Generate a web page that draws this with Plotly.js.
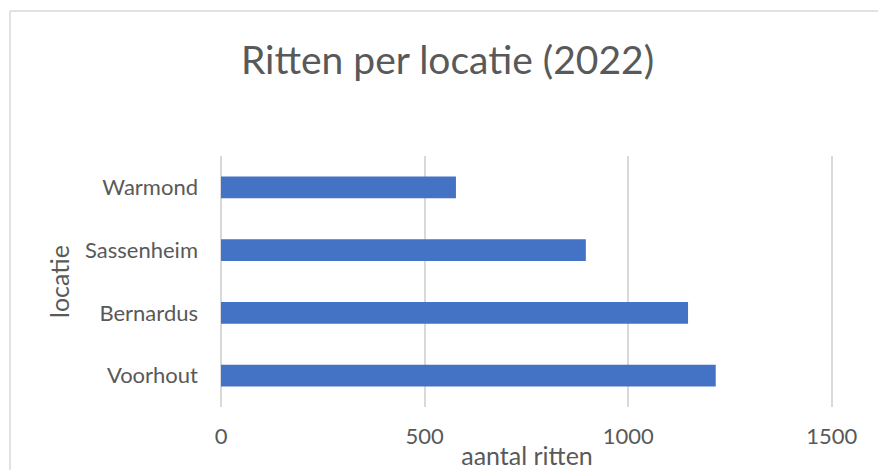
<!DOCTYPE html>
<html>
<head>
<meta charset="utf-8">
<script src="https://cdn.plot.ly/plotly-3.0.1.min.js"></script>
<style>
  html, body { margin: 0; padding: 0; background: #ffffff; }
  #chart { width: 878px; height: 470px; }
</style>
</head>
<body>
<div id="chart"></div>
<script>
// Data (bottom-to-top order, as drawn)
const locaties = ['Voorhout', 'Bernardus', 'Sassenheim', 'Warmond'];
const ritten = [1215, 1147, 896, 577];
const xTickVals = [0, 500, 1000, 1500];
const xTickText = ['0', '500', '1000', '1500'];

const FONT = 'Lato, "Open Sans", sans-serif';
const GREY = '#595959';

const trace = {
  type: 'bar',
  orientation: 'h',
  y: locaties,
  x: ritten,
  marker: { color: '#4472C4' },
  hoverinfo: 'x+y'
};

const layout = {
  width: 878,
  height: 470,
  margin: { l: 221, r: 45, t: 156, b: 63 },
  paper_bgcolor: '#ffffff',
  plot_bgcolor: '#ffffff',
  showlegend: false,
  bargap: 0.657,
  font: { family: FONT, color: GREY },
  title: {
    text: 'Ritten per locatie (2022)',
    font: { family: FONT, size: 39, color: GREY },
    xref: 'container', x: 0.5097, xanchor: 'center',
    yref: 'container', y: 0.872, yanchor: 'middle'
  },
  xaxis: {
    range: [0, 1503],
    tickvals: xTickVals,
    ticktext: xTickText,
    showgrid: true,
    gridcolor: '#d9d9d9',
    gridwidth: 2,
    zeroline: true,
    zerolinecolor: '#d9d9d9',
    zerolinewidth: 2,
    showline: false,
    ticks: '',
    ticklabelstandoff: 14,
    tickfont: { family: FONT, size: 22, color: GREY },
    title: { text: 'aantal ritten', font: { family: FONT, size: 25, color: GREY }, standoff: 2 },
    fixedrange: true
  },
  yaxis: {
    type: 'category',
    showgrid: false,
    zeroline: false,
    showline: false,
    ticks: '',
    ticklabelstandoff: 22,
    tickfont: { family: FONT, size: 22, color: GREY },
    title: { text: 'locatie', font: { family: FONT, size: 25, color: GREY }, standoff: 8 },
    fixedrange: true
  },
  shapes: [
    {
      type: 'line', xref: 'paper', yref: 'paper',
      x0: (10 - 221) / 612, x1: (900 - 221) / 612,
      y0: (407 - 11) / 251, y1: (407 - 11) / 251,
      line: { color: '#d9d9d9', width: 1.5 }
    },
    {
      type: 'line', xref: 'paper', yref: 'paper',
      x0: (10 - 221) / 612, x1: (10 - 221) / 612,
      y0: (407 - 11) / 251, y1: (407 - 500) / 251,
      line: { color: '#d9d9d9', width: 1.5 }
    }
  ]
};

Plotly.newPlot('chart', [trace], layout, { displayModeBar: false, staticPlot: true });
</script>
</body>
</html>
